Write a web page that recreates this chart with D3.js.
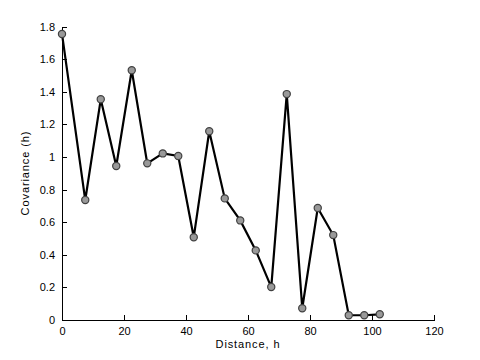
<!DOCTYPE html>
<html><head><meta charset="utf-8">
<script src="https://cdn.jsdelivr.net/npm/d3@7"></script>
<style>body{margin:0;background:#fff}svg{display:block}text{font-family:"Liberation Sans",Arial,sans-serif;font-size:11px;fill:#000}</style>
</head><body><svg id="c" width="480" height="360"></svg>
<script>
const distances = [0, 7.5, 12.5, 17.5, 22.5, 27.5, 32.5, 37.5, 42.5, 47.5, 52.5, 57.5, 62.5, 67.5, 72.5, 77.5, 82.5, 87.5, 92.5, 97.5, 102.5];
const covariance = [1.755, 0.736, 1.354, 0.945, 1.532, 0.961, 1.022, 1.006, 0.508, 1.158, 0.746, 0.611, 0.427, 0.202, 1.386, 0.072, 0.687, 0.521, 0.029, 0.029, 0.035];
const xTicks = [0, 20, 40, 60, 80, 100, 120];
const yTicks = [0, 0.2, 0.4, 0.6, 0.8, 1, 1.2, 1.4, 1.6, 1.8];

const svg = d3.select("#c");
const x = d3.scaleLinear().domain([0, 120]).range([62, 434]);
const y = d3.scaleLinear().domain([0, 1.8]).range([320, 26.6]);

const xAxis = d3.axisBottom(x).tickValues(xTicks).tickSizeInner(-5).tickSizeOuter(0).tickPadding(7).tickFormat(d3.format("~g"));
const gx = svg.append("g").attr("transform", "translate(0,320)").call(xAxis);
const yAxis = d3.axisLeft(y).tickValues(yTicks).tickSizeInner(-5).tickSizeOuter(0).tickPadding(7).tickFormat(d3.format("~g"));
const gy = svg.append("g").attr("transform", "translate(62,0)").call(yAxis);
[gx, gy].forEach(g => {
  g.selectAll("path").attr("stroke", "#000").attr("stroke-width", 1).attr("shape-rendering", "crispEdges");
  g.selectAll("line").attr("stroke", "#000").attr("shape-rendering", "crispEdges");
  g.selectAll("text").attr("font-family", "Liberation Sans, Arial, sans-serif").attr("font-size", 11).attr("fill", "#000");
});
gx.selectAll("text").attr("dy", "0.71em");

const line = d3.line().x((d, i) => x(distances[i])).y(d => y(d));
svg.append("path").datum(covariance).attr("d", line).attr("fill", "none").attr("stroke", "#000").attr("stroke-width", 2.2).attr("stroke-linejoin", "miter");

svg.append("g").selectAll("circle").data(covariance).join("circle")
  .attr("cx", (d, i) => x(distances[i])).attr("cy", d => y(d)).attr("r", 3.6)
  .attr("fill", "#999").attr("stroke", "#404040").attr("stroke-width", 1.2);

svg.append("text").attr("x", 248).attr("y", 348).attr("text-anchor", "middle")
  .attr("font-size", 12).attr("letter-spacing", 0.9).text("Distance, h");
svg.append("text").attr("transform", "translate(29,173) rotate(-90)").attr("text-anchor", "middle")
  .attr("font-size", 12).attr("letter-spacing", 0.9).text("Covariance (h)");
</script></body></html>
